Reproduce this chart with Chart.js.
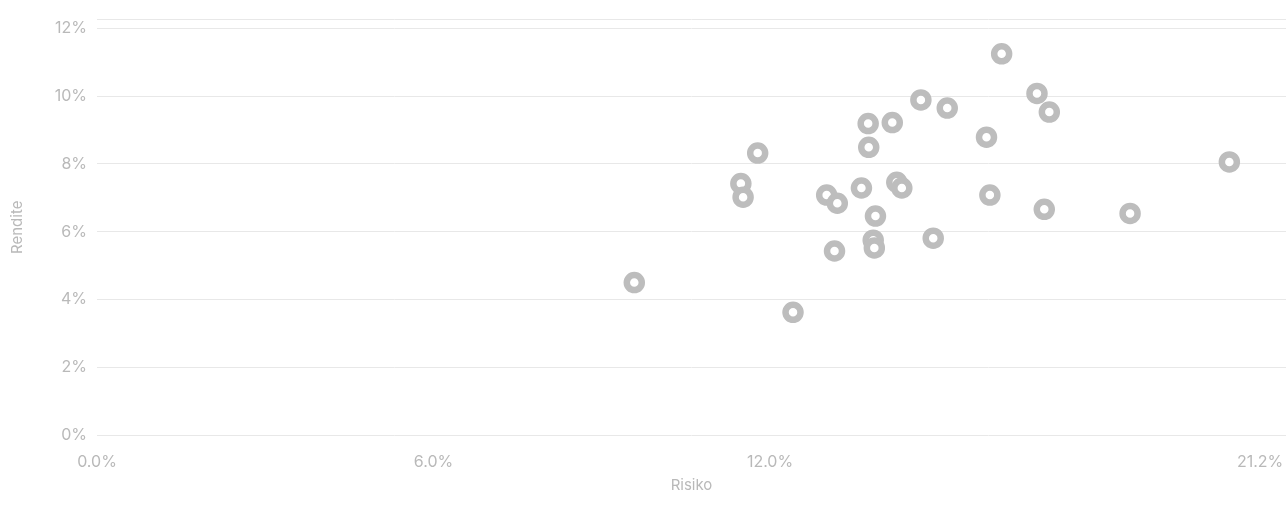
<!DOCTYPE html>
<html>
<head>
<meta charset="utf-8">
<script src="https://cdn.jsdelivr.net/npm/chart.js@4"></script>
<style>
  html, body { margin: 0; padding: 0; background: #fff; }
  #wrap { width: 1286px; height: 510px; }
</style>
</head>
<body>
<div id="wrap"><canvas id="scatter-canvas"></canvas></div>
<script>
// Risiko (x, %) / Rendite (y, %)
const risk = [9.58, 12.41, 11.48, 11.52, 11.78, 13.01, 13.20, 13.15, 13.63, 13.88,
              13.84, 13.86, 13.75, 13.76, 14.18, 14.26, 14.35, 14.69, 15.16, 14.91,
              15.86, 15.92, 16.13, 16.76, 16.98, 16.89, 18.42, 20.19];
const yieldPct = [4.50, 3.62, 7.42, 7.02, 8.32, 7.08, 6.84, 5.43, 7.29, 6.46,
                  5.75, 5.52, 9.19, 8.49, 9.22, 7.46, 7.29, 9.89, 9.65, 5.81,
                  8.79, 7.08, 11.25, 10.08, 9.53, 6.66, 6.54, 8.06];
const xTicks = [0, 6, 12, 21.2];
const yTicks = [0, 2, 4, 6, 8, 10, 12];
const xMax = 21.2;
const yMax = 12.26;

const grey = '#bdbdbd';
const textGrey = '#b9b9b9';
const font = { family: 'Inter, "Noto Sans", sans-serif', size: 16 };

function make_scatter_chart(){
  const ctx = document.getElementById('scatter-canvas');
  const points = risk.map((x, i) => ({ x: x, y: yieldPct[i] }));
  return new Chart(ctx, {
    type: 'scatter',
    data: {
      datasets: [{
        label: 'Fonds',
        data: points,
        backgroundColor: '#ffffff',
        borderColor: grey,
        borderWidth: 6.5,
        pointRadius: 7.5,
        pointHoverRadius: 7.5
      }]
    },
    options: {
      responsive: true,
      maintainAspectRatio: false,
      animation: false,
      events: [],
      layout: {
        autoPadding: false,
        padding: { top: 18, right: 0, left: 0, bottom: 0 }
      },
      scales: {
        x: {
          type: 'linear',
          min: 0,
          max: xMax,
          afterBuildTicks: function(axis){
            axis.ticks = xTicks.map(v => ({ value: v }));
          },
          afterFit: function(axis){
            axis.height = 75;
            axis.paddingLeft = 0;
            axis.paddingRight = 0;
          },
          grid: { display: false },
          border: { display: false },
          ticks: {
            color: textGrey,
            font: font,
            padding: 10,
            maxRotation: 0,
            autoSkip: false,
            // last label sits against the right edge, pad it so it shifts left
            callback: function(v){
              const s = v.toFixed(1) + '%';
              return v === xMax ? s + '\u2007\u2007\u2007\u2007\u2007' : s;
            }
          },
          title: {
            display: true,
            text: 'Risiko',
            color: textGrey,
            font: { family: font.family, size: 15 },
            padding: { top: 4, bottom: 16 }
          }
        },
        y: {
          type: 'linear',
          min: 0,
          max: yMax,
          afterBuildTicks: function(axis){
            axis.ticks = yTicks.concat([yMax]).map(v => ({ value: v }));
          },
          afterFit: function(axis){ axis.width = 97; },
          grid: { color: '#e8e8e8', lineWidth: 1, drawTicks: false },
          border: { display: false },
          ticks: {
            color: textGrey,
            font: font,
            padding: 10,
            callback: function(v){
              return yTicks.includes(v) ? v + '%' : '';
            }
          },
          title: {
            display: true,
            text: 'Rendite',
            color: textGrey,
            font: { family: font.family, size: 15 },
            padding: { top: 8, bottom: 0 }
          }
        }
      },
      plugins: {
        legend: { display: false },
        tooltip: { enabled: false }
      }
    }
  });
}

make_scatter_chart();
</script>
</body>
</html>
